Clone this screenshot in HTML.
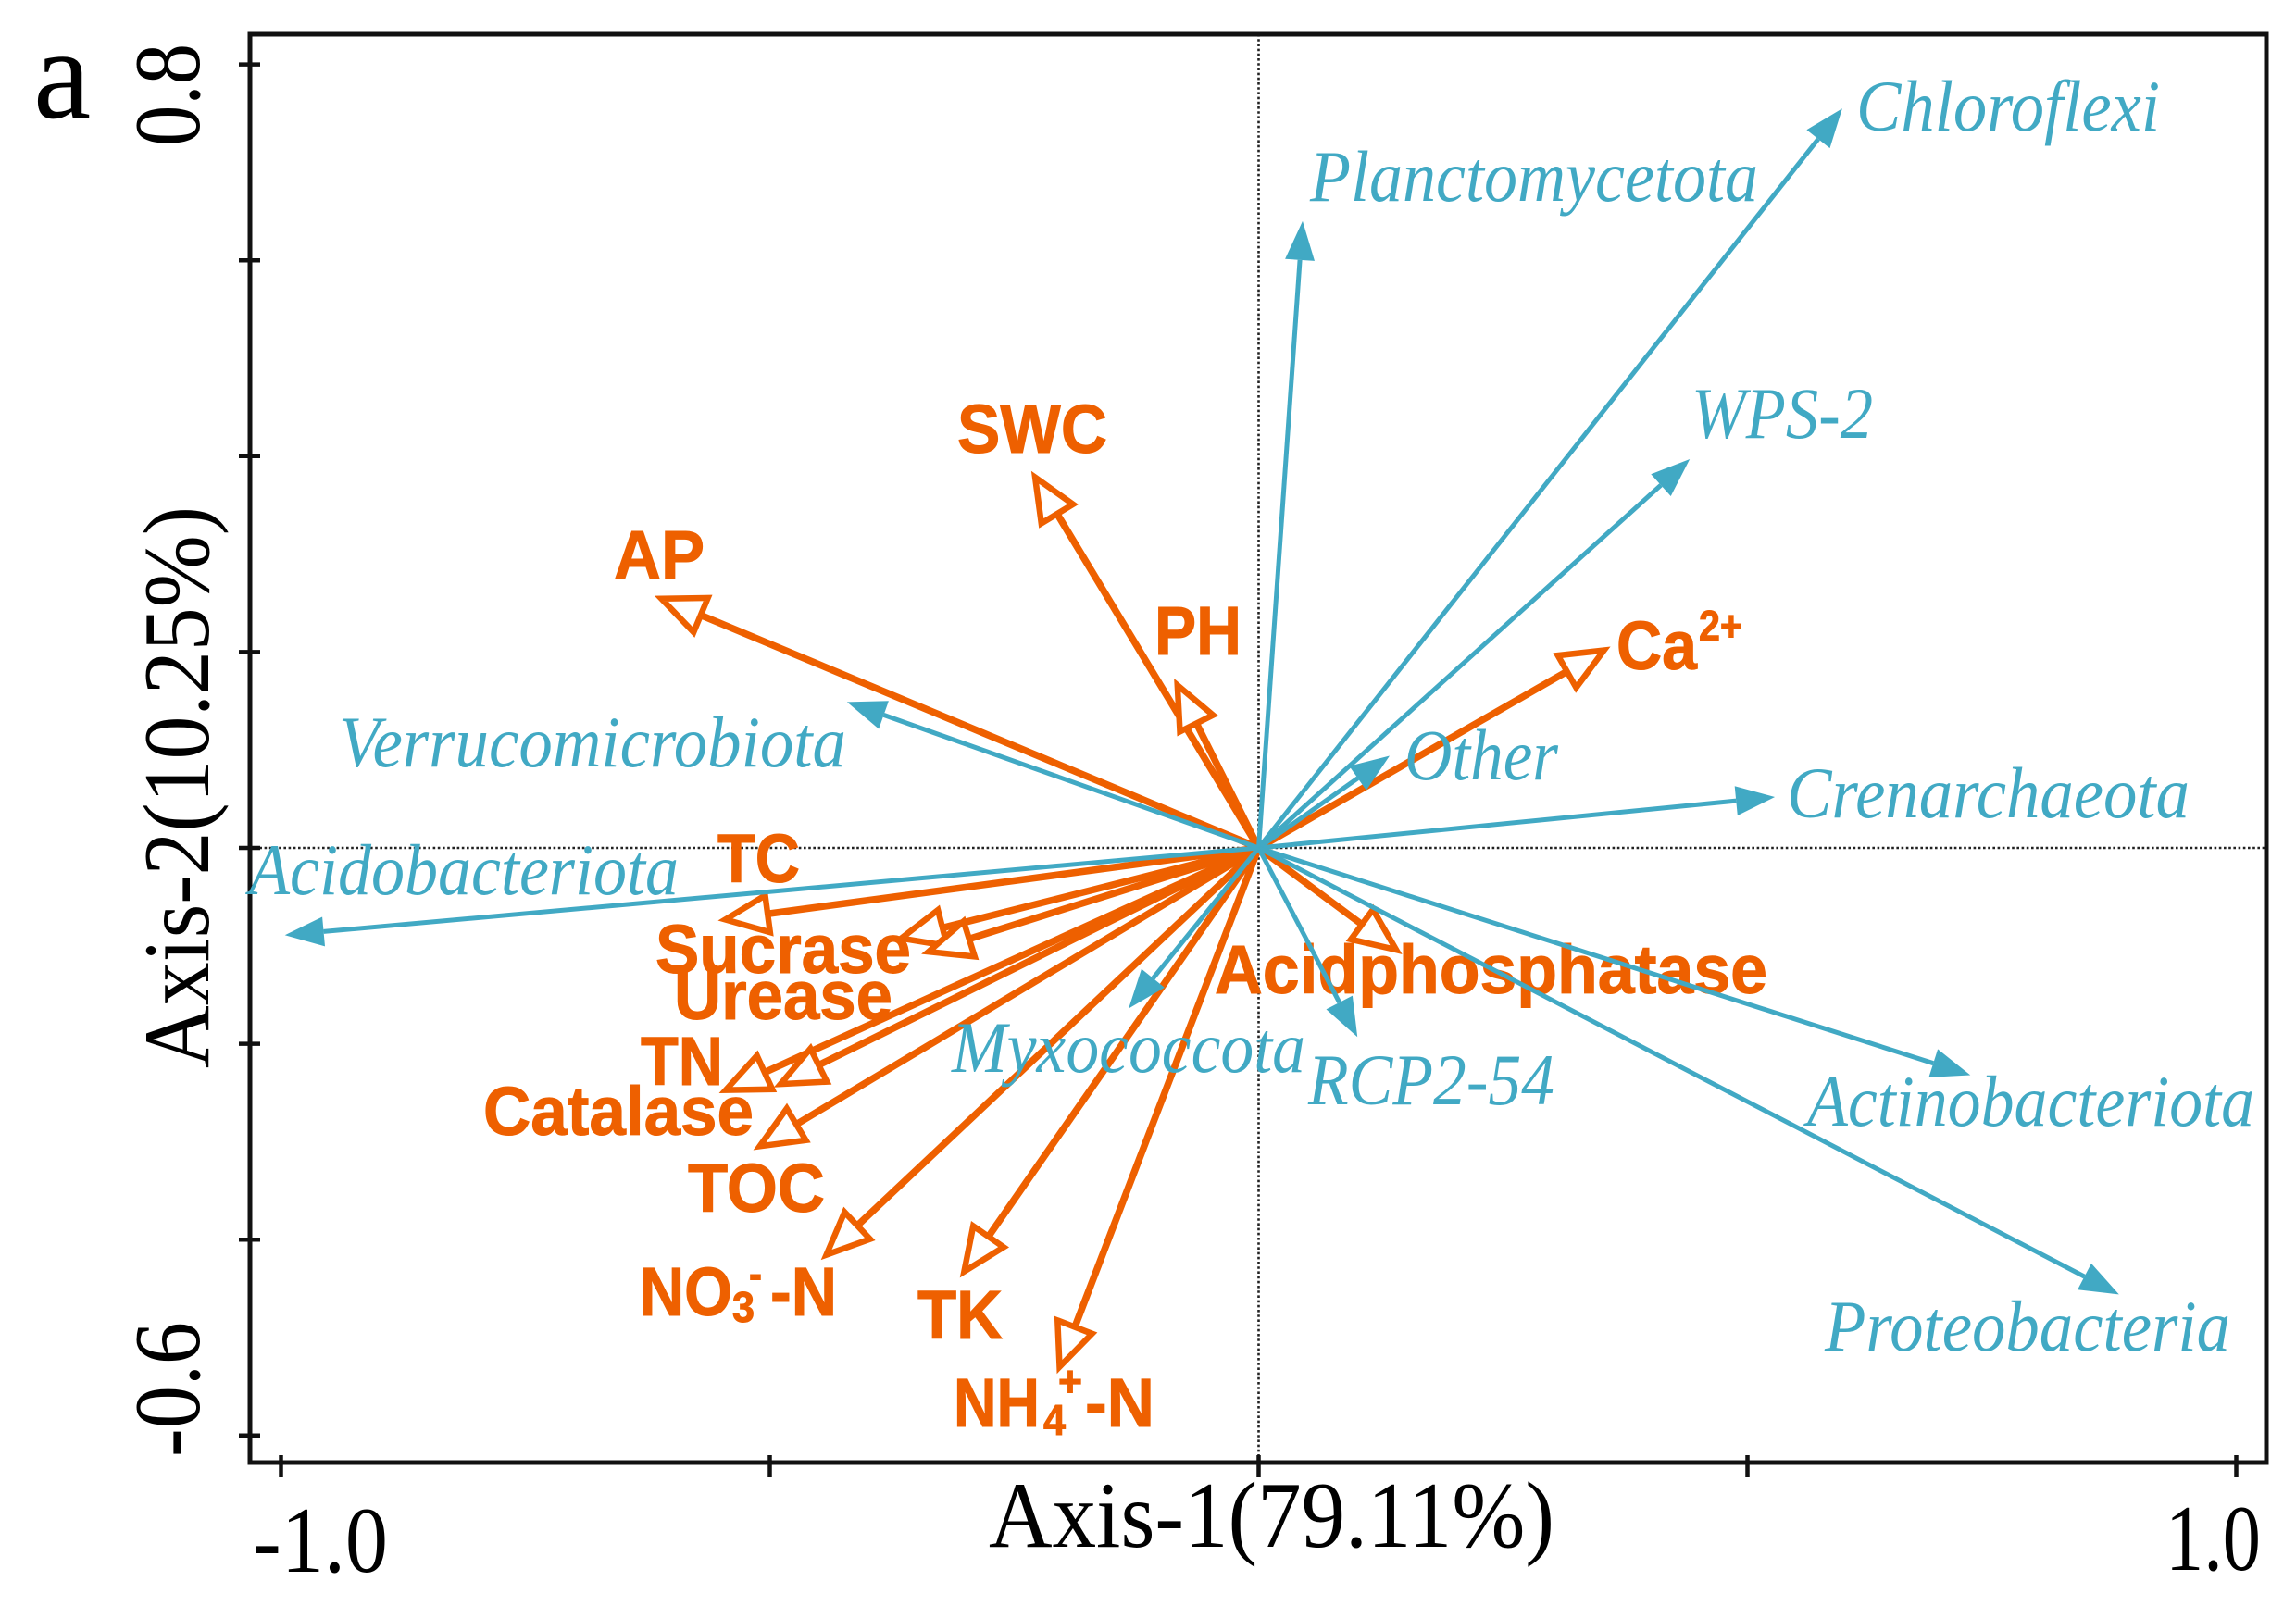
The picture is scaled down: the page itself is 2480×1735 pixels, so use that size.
<!DOCTYPE html>
<html lang="en">
<head>
<meta charset="utf-8">
<title>Biplot</title>
<style>
html,body{margin:0;padding:0;background:#fff;}
svg{display:block;}
.blk{font-family:"Liberation Serif",serif;fill:#000;font-size:102px;}
.bl{font-family:"Liberation Serif",serif;font-style:italic;fill:#41a9c4;font-size:78px;}
.or{font-family:"Liberation Sans",sans-serif;font-weight:bold;fill:#ee6000;font-size:74px;stroke:#ee6000;stroke-width:1;}
.or.sm{font-size:46px;}
</style>
</head>
<body>
<svg id="chart" xmlns="http://www.w3.org/2000/svg" width="2480" height="1735" viewBox="0 0 2480 1735">
<rect width="2480" height="1735" fill="#fff"/>
<g id="guides"></g>
<g id="frame"></g>
<g id="orangeArrows"></g>
<g>
<text class="or" x="1034" y="489" textLength="162" lengthAdjust="spacingAndGlyphs">SWC</text>
<text class="or" x="663" y="625" textLength="98" lengthAdjust="spacingAndGlyphs">AP</text>
<text class="or" x="1247" y="707" textLength="94" lengthAdjust="spacingAndGlyphs">PH</text>
<text class="or" x="1746" y="723" textLength="87" lengthAdjust="spacingAndGlyphs">Ca</text>
<text class="or sm" x="1835" y="692" textLength="47" lengthAdjust="spacingAndGlyphs">2+</text>
<text class="or" x="775" y="953" textLength="89" lengthAdjust="spacingAndGlyphs">TC</text>
<text class="or" x="708" y="1051" textLength="276" lengthAdjust="spacingAndGlyphs">Sucrase</text>
<text class="or" x="728" y="1101" textLength="236" lengthAdjust="spacingAndGlyphs">Urease</text>
<text class="or" x="692" y="1172" textLength="89" lengthAdjust="spacingAndGlyphs">TN</text>
<text class="or" x="522" y="1226" textLength="292" lengthAdjust="spacingAndGlyphs">Catalase</text>
<text class="or" x="743" y="1309" textLength="148" lengthAdjust="spacingAndGlyphs">TOC</text>
<text class="or" x="691" y="1421" textLength="100" lengthAdjust="spacingAndGlyphs">NO</text>
<text class="or sm" x="791" y="1428" textLength="24" lengthAdjust="spacingAndGlyphs">3</text>
<text class="or sm" x="809" y="1392" textLength="14" lengthAdjust="spacingAndGlyphs">-</text>
<text class="or" x="832" y="1421" textLength="72" lengthAdjust="spacingAndGlyphs">-N</text>
<text class="or" x="991" y="1446" textLength="92" lengthAdjust="spacingAndGlyphs">TK</text>
<text class="or" x="1030" y="1541" textLength="93" lengthAdjust="spacingAndGlyphs">NH</text>
<text class="or sm" x="1127" y="1550" textLength="24" lengthAdjust="spacingAndGlyphs">4</text>
<text class="or sm" x="1143" y="1508" textLength="26" lengthAdjust="spacingAndGlyphs">+</text>
<text class="or" x="1172" y="1541" textLength="75" lengthAdjust="spacingAndGlyphs">-N</text>
<text class="or" x="1312" y="1073" textLength="597" lengthAdjust="spacingAndGlyphs">Acidphosphatase</text>
</g>
<g id="blueArrows"></g>
<g>
<text class="bl" x="2005" y="141" textLength="328" lengthAdjust="spacingAndGlyphs">Chloroflexi</text>
<text class="bl" x="1415" y="217" textLength="484" lengthAdjust="spacingAndGlyphs">Planctomycetota</text>
<text class="bl" x="1827" y="473" textLength="196" lengthAdjust="spacingAndGlyphs">WPS-2</text>
<text class="bl" x="1517" y="842" textLength="166" lengthAdjust="spacingAndGlyphs">Other</text>
<text class="bl" x="1930" y="883" textLength="435" lengthAdjust="spacingAndGlyphs">Crenarchaeota</text>
<text class="bl" x="1952" y="1216" textLength="483" lengthAdjust="spacingAndGlyphs">Actinobacteriota</text>
<text class="bl" x="1971" y="1459" textLength="438" lengthAdjust="spacingAndGlyphs">Proteobacteria</text>
<text class="bl" x="1413" y="1193" textLength="266" lengthAdjust="spacingAndGlyphs">RCP2-54</text>
<text class="bl" x="1028" y="1158" textLength="382" lengthAdjust="spacingAndGlyphs">Myxococcota</text>
<text class="bl" x="269" y="966" textLength="464" lengthAdjust="spacingAndGlyphs">Acidobacteriota</text>
<text class="bl" x="366" y="828" textLength="548" lengthAdjust="spacingAndGlyphs">Verrucomicrobiota</text>
</g>
<g>
<text class="blk" x="36" y="127" style="font-size:140px">a</text>
<text class="blk" transform="translate(215,158) rotate(-90)" textLength="111" lengthAdjust="spacingAndGlyphs">0.8</text>
<text class="blk" transform="translate(215,1574) rotate(-90)" textLength="146" lengthAdjust="spacingAndGlyphs">-0.6</text>
<text class="blk" transform="translate(225,1154) rotate(-90)" textLength="607" lengthAdjust="spacingAndGlyphs">Axis-2(10.25%)</text>
<text class="blk" x="1068" y="1671" textLength="611" lengthAdjust="spacingAndGlyphs">Axis-1(79.11%)</text>
<text class="blk" x="273" y="1698" textLength="146" lengthAdjust="spacingAndGlyphs">-1.0</text>
<text class="blk" x="2339" y="1696" textLength="103" lengthAdjust="spacingAndGlyphs">1.0</text>
</g>
</svg>
<script>
const xTicks = [-1, -0.5, 0, 0.5, 1];
const yTicks = [0.8, 0.6, 0.4, 0.2, 0, -0.2, -0.4, -0.6];

const phylaNames = ["chloroflexi", "planctomycetota", "wps-2", "other", "crenarchaeota", "actinobacteriota", "proteobacteria", "rcp2-54", "myxococcota", "acidobacteriota", "verrucomicrobiota"];
const phylaAxis1 = [0.597, 0.045, 0.441, 0.134, 0.528, 0.728, 0.880, 0.101, -0.133, -0.996, -0.421];
const phylaAxis2 = [0.755, 0.640, 0.397, 0.094, 0.052, -0.232, -0.456, -0.193, -0.164, -0.089, 0.149];

const envNames = ["swc", "ap", "ph", "ca", "tc", "sucrase", "urease", "tn", "catalase", "toc", "no3-n", "tk", "nh4-n", "acidphosphatase"];
const envAxis1 = [-0.232, -0.617, -0.086, 0.359, -0.552, -0.372, -0.344, -0.551, -0.495, -0.516, -0.447, -0.305, -0.206, 0.146];
const envAxis2 = [0.384, 0.257, 0.172, 0.205, -0.074, -0.094, -0.108, -0.250, -0.244, -0.308, -0.420, -0.438, -0.536, -0.108];

const NS = "http://www.w3.org/2000/svg";
const sx = v => 1359.5 + v * 1056;
const sy = v => 916 - v * 1058;
const LEFT = 270, RIGHT = 2448, TOP = 37, BOTTOM = 1580;

function mk(parent, tag, attrs) {
  const el = document.createElementNS(NS, tag);
  for (const k in attrs) el.setAttribute(k, attrs[k]);
  parent.appendChild(el);
  return el;
}

const guides = document.getElementById("guides");
const hGuide = mk(guides, "line", {x1: LEFT, x2: RIGHT, y1: sy(0), y2: sy(0), stroke: "#222", "stroke-width": 2.6, "stroke-dasharray": "2.6 2.6"});


const vGuide = mk(guides, "line", {x1: sx(0), x2: sx(0), y1: TOP, y2: BOTTOM, stroke: "#222", "stroke-width": 2.6, "stroke-dasharray": "2.6 2.6"});



const frame = document.getElementById("frame");
const box = mk(frame, "rect", {x: LEFT, y: TOP, width: RIGHT - LEFT, height: BOTTOM - TOP, fill: "none", stroke: "#111", "stroke-width": 5});


xTicks.forEach(t => {
  const tick = mk(frame, "line", {x1: sx(t), x2: sx(t), y1: BOTTOM - 8, y2: BOTTOM + 16, stroke: "#111", "stroke-width": 4.5});
  
  
});
yTicks.forEach(t => {
  const tick = mk(frame, "line", {x1: LEFT - 12, x2: LEFT + 11, y1: sy(t), y2: sy(t), stroke: "#111", "stroke-width": 4.5});
  
  
});

function arrow(group, name, vx, vy, opt) {
  const g = mk(group, "g", {});
  
  
  const x0 = sx(0), y0 = sy(0);
  let x1 = sx(vx), y1 = sy(vy);
  const dx = x1 - x0, dy = y1 - y0, len = Math.hypot(dx, dy) || 1;
  const ux = dx / len, uy = dy / len;
  x1 -= ux * opt.inset; y1 -= uy * opt.inset;
  const bx = x1 - ux * opt.headLen, by = y1 - uy * opt.headLen;
  const hw = opt.headWidth / 2;
  mk(g, "line", {x1: x0, y1: y0, x2: bx, y2: by, stroke: opt.color, "stroke-width": opt.lineWidth});
  const pts = [[x1, y1], [bx - uy * hw, by + ux * hw], [bx + uy * hw, by - ux * hw]]
    .map(p => p[0].toFixed(1) + "," + p[1].toFixed(1)).join(" ");
  mk(g, "polygon", {points: pts, fill: opt.fill, stroke: opt.color, "stroke-width": opt.headStroke, "stroke-linejoin": "miter"});
}

const envStyle = {color: "#ee6000", fill: "#fff", lineWidth: 7.5, headStroke: 6.5, headLen: 46, headWidth: 40, inset: 7};
const phylaStyle = {color: "#41a9c4", fill: "#41a9c4", lineWidth: 5, headStroke: 0, headLen: 42, headWidth: 32, inset: 0};

const orangeGroup = document.getElementById("orangeArrows");
envNames.forEach((n, i) => arrow(orangeGroup, "arrow-" + n, envAxis1[i], envAxis2[i], envStyle));
const blueGroup = document.getElementById("blueArrows");
phylaNames.forEach((n, i) => arrow(blueGroup, "arrow-" + n, phylaAxis1[i], phylaAxis2[i], phylaStyle));
</script>
</body>
</html>
